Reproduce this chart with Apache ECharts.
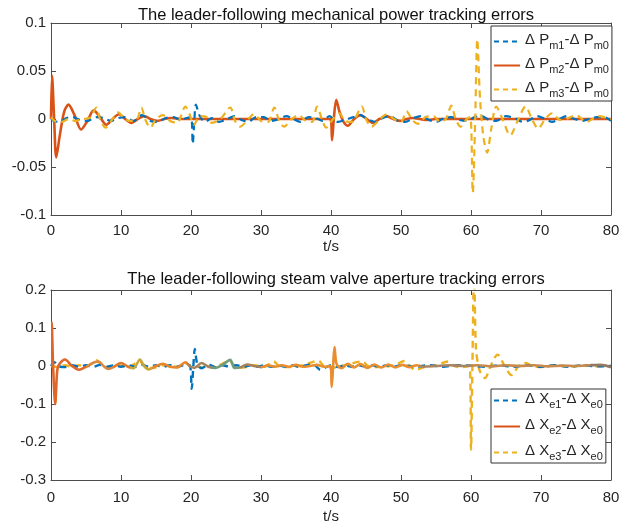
<!DOCTYPE html>
<html><head><meta charset="utf-8">
<script src="https://cdn.jsdelivr.net/npm/echarts@6/dist/echarts.min.js"></script>
<style>html,body{margin:0;padding:0;background:#fff}#c{width:634px;height:531px}</style>
</head><body><div id="c"></div>
<script>
// ---------- Top chart: mechanical power tracking errors ----------
const xTicks = [0, 10, 20, 30, 40, 50, 60, 70, 80];
const titleTop = 'The leader-following mechanical power tracking errors';
const titleBottom = 'The leader-following steam valve aperture tracking errors';

const pm1T = [0,0.4,1.2,2.2,3.0,4.2,5.2,6.4,7.5,8.6,9.6,10.6,11.8,13.0,14.2,15.2,16.4,17.5,18.5,19.4,20.0,20.25,20.45,20.7,21.2,22.0,23.0,24.0,25.2,26.2,27.2,28.2,29.3,30.4,31.4,32.6,33.6,34.6,35.6,36.8,37.8,38.8,39.8,40.3,41.0,42.0,43.2,44.2,45.2,46.4,47.4,48.4,49.6,50.6,51.8,52.8,54.0,55.0,56.2,57.2,58.4,59.4,60.5,61.5,62.6,63.6,65.0,66.2,67.4,68.4,69.4,70.6,71.6,72.6,73.7,74.8,75.8,77.0,78.0,79.0,80.0];
const pm1V = [0,-0.002,-0.003,0.001,0.002,-0.001,-0.002,0.002,0.001,-0.002,0.001,0.002,-0.002,0.004,-0.002,-0.003,0.001,0.002,-0.001,0.001,0.002,-0.026,-0.005,0.015,0.004,-0.003,0.001,-0.003,0.0,0.003,-0.001,-0.003,0.002,0.002,-0.002,0.0,0.003,0.0,-0.003,0.002,0.001,-0.002,0.003,0.0,-0.003,-0.001,0.002,0.004,0.0,-0.003,0.001,0.003,-0.002,-0.003,0.001,0.003,-0.001,-0.003,0.001,0.002,-0.001,-0.002,0.002,0.003,-0.001,-0.002,0.003,0.001,-0.003,-0.001,0.003,0.0,-0.003,0.0,0.003,0.0,-0.002,0.0,0.002,0.002,-0.002];

const pm2T = [0,0.15,0.45,0.75,1.3,1.9,2.5,3.3,4.3,5.2,6.1,7.0,7.9,8.8,9.7,10.6,11.5,12.4,13.3,14.2,15.2,16.2,17.2,18.5,20,30,39.9,40.15,40.4,40.75,41.2,41.8,42.4,43.3,44.2,45.1,46.0,46.9,47.9,48.9,49.9,50.8,51.7,52.7,53.8,55,65,80];
const pm2V = [0,0.045,0.0,-0.04,-0.015,0.008,0.015,0.005,-0.011,-0.002,0.009,0.002,-0.006,0.0,0.005,0.0,-0.004,0.0,0.003,0.0,-0.002,0.0,0.001,0.0,0,0,0.0,-0.022,0.0,0.02,0.008,-0.003,-0.007,0.0,0.004,0.0,-0.004,0.0,0.003,0.0,-0.002,0.0,0.001,0.0,-0.001,0,0,0];

const pm3T = [0,0.5,1.5,2.5,3.5,4.5,5.5,6.5,7.0,7.8,8.6,9.6,10.4,11.2,12.3,12.9,13.5,14.2,15.0,16.0,17.0,18.0,19.2,19.8,20.4,21.3,22.2,23.0,24.2,25.6,26.3,27.0,28.2,29.0,30.0,31.0,31.9,32.6,33.3,34.4,35.4,36.4,37.3,38.0,38.7,39.3,40.3,41.2,42.0,43.0,44.4,45.0,45.8,47.0,48.0,49.0,50.0,50.8,51.6,52.4,53.5,54.6,55.6,56.4,57.2,57.8,58.5,59.4,59.9,60.25,60.6,60.9,61.3,61.8,62.3,62.9,63.6,64.5,65.6,66.6,67.8,68.7,69.6,70.6,71.6,72.7,73.6,75.0,76.5,78.2,80];
const pm3V = [0.002,-0.002,-0.003,0.0,-0.002,0.0,0.001,0.012,0.0,-0.009,-0.002,0.007,0.001,-0.002,0.0,0.012,-0.001,-0.009,0.0,0.004,-0.002,-0.004,0.013,0.005,-0.006,0.003,0.002,-0.004,0.0,0.012,-0.002,-0.008,0.0,0.005,-0.002,-0.003,0.012,-0.002,-0.008,0.0,0.004,-0.002,-0.003,0.013,0.0,-0.009,0.0,0.006,-0.002,-0.003,0.013,0.0,-0.008,0.0,0.005,0.0,-0.003,0.008,-0.001,-0.005,0.002,0.003,-0.003,0.0,0.014,0.0,-0.008,0.0,0.002,-0.077,0.0,0.083,0.02,-0.02,-0.035,-0.01,0.013,0.0,-0.017,-0.003,0.013,0.0,-0.01,0.0,0.006,-0.001,0.0,0.004,-0.003,0.003,0.0];

// ---------- Bottom chart: steam valve aperture tracking errors ----------
const xe1T = [0,0.5,1.0,2.0,3.0,4.0,5.0,6.0,7.0,8.0,9.0,10.0,11.0,12.0,13.0,14.0,15.0,16.0,17.0,18.0,19.0,19.8,20.1,20.3,20.55,20.9,21.5,22.5,23.5,24.5,25.5,26.5,27.5,28.5,29.5,30.5,31.5,32.5,33.5,34.5,35.5,36.5,37.5,38.5,39.2,40,41,42,43,44,45,46,47,48,49,50,52,54,56,58,60,62,64,66,68,70,72,74,76,78,80];
const xe1V = [0,0.01,0,-0.003,0.002,-0.002,0.002,-0.002,0.003,-0.002,0.002,-0.002,0.002,-0.002,0.003,-0.002,0.002,-0.002,0.002,-0.002,0.002,0.002,-0.06,-0.01,0.045,0.005,-0.006,0.004,-0.003,0.002,-0.002,0.002,-0.002,0.002,-0.002,0.002,-0.002,0.002,-0.002,0.002,-0.002,0.002,0.004,-0.01,-0.004,0.002,-0.003,0.002,-0.002,0.002,-0.002,0.002,-0.002,0.002,-0.002,0.002,-0.002,0.002,-0.002,0.002,0.001,-0.002,0.002,-0.002,0.002,-0.002,0.002,-0.002,0.002,-0.001,0.0];

const xe2T = [0,0.1,0.3,0.6,0.9,1.2,2.0,3.0,4.0,5.0,6.2,6.8,7.5,8.2,9.0,10.0,11.0,11.8,12.7,13.3,14.0,15.0,16.0,17.0,18.0,19.2,19.8,20.5,21.5,22.5,23.5,24.5,25.6,26.2,27.0,28.0,29.0,30.0,31.0,32.0,33.0,34.0,35.0,36.0,37.0,38.0,39.0,39.9,40.1,40.3,40.5,40.8,41.5,42.4,43.3,44.2,45.2,46.2,47.2,48.2,49.2,50.2,51.2,52.2,53.2,55,57,59,61,63,65,67,69,71,73,75,77,78.5,80];
const xe2V = [0,0.115,0.0,-0.1,-0.01,0.005,0.017,0.0,-0.01,-0.002,0.01,0.012,0.0,-0.008,-0.002,0.008,-0.002,-0.006,0.017,0.0,-0.009,0.0,0.006,-0.002,-0.004,0.01,0.0,-0.005,0.008,-0.002,-0.005,0.003,0.016,-0.005,-0.004,0.004,0.0,-0.003,0.002,-0.002,0.002,-0.002,0.003,-0.002,0.0,0.003,-0.002,0.0,-0.055,0.0,0.05,0.005,-0.006,0.006,-0.004,0.005,-0.005,0.004,-0.004,0.004,-0.004,0.003,-0.003,0.002,-0.002,0.0,0.002,0.0,0.002,-0.001,0.002,0.0,0.002,-0.001,0.001,0.0,0.002,0.003,-0.003];

const xe3T = [0,1,2,3,4,5,6.5,7.3,8.2,9.5,11,12.7,13.4,14.5,16,18,19.2,20,22,24,25.5,26.3,27.5,29,30.5,31.8,32.6,34,36,38.2,39,40.5,42,44.5,45.3,47,49,50.5,51.3,52,53.5,55,56.8,57.6,58.5,59.8,60.0,60.2,60.45,60.7,61.2,62.0,62.8,63.8,64.8,65.8,66.8,67.8,68.8,70,72,74,76,78,80];
const xe3V = [0,-0.003,0.002,-0.002,0.002,-0.002,0.015,0.0,-0.004,0.002,-0.002,0.012,0.0,-0.005,0.002,-0.002,0.008,0.0,-0.003,0.002,0.014,0.0,-0.004,0.002,-0.002,0.012,0.0,-0.003,0.002,0.014,0.0,-0.004,0.002,0.012,0.0,-0.003,0.002,0.013,0.0,-0.01,-0.002,0.002,0.012,0.0,-0.003,0.0,-0.22,0.0,0.26,0.05,-0.01,-0.032,0.0,0.03,0.0,-0.024,0.0,0.008,0.0,-0.003,0.002,-0.002,0.002,-0.001,0.0];

// colour tint bands seen along the Xe2 trace in the reference (time ranges)
const xe2Bands = [[0,5],[5,9],[9,11.3],[11.3,14.5],[14.5,19.5],[19.5,22.8],[22.8,26.8],[26.8,30],[30,52.5],[52.5,60],[60,77],[77,80.1]];

const legendTop = {Pm1: ['P','m1','P','m0'], Pm2: ['P','m2','P','m0'], Pm3: ['P','m3','P','m0']};
const legendBot = {Xe1: ['X','e1','X','e0'], Xe2: ['X','e2','X','e0'], Xe3: ['X','e3','X','e0']};

const pairs = (t, v) => t.map((x, i) => [x, v[i]]);
const FONT = 'Liberation Sans, Arial, Helvetica, sans-serif';
const TXT = '#262626';
const AX = '#4d4d4d';
const BLUE = '#0072BD', ORANGE = '#D95319', YELLOW = '#EDB120';
const bandColors = ['#DF6628','#D98840','#E07A2A','#C9A53C','#E8862C','#A8845E','#709C7C','#A6825C','#E88E2E','#A98562','#C88A4C','#947862'];

const fmtY = v => { const r = Math.round(v * 1000) / 1000; return r === 0 ? '0' : String(r); };

function xAx(gridIndex, bottom, gap, margin) {
  return {
    type: 'value', gridIndex, min: 0, max: 80, interval: 10,
    position: bottom ? 'bottom' : 'top',
    name: bottom ? 't/s' : '', nameLocation: 'middle', nameGap: gap,
    nameTextStyle: {fontFamily: FONT, fontSize: 15, color: TXT},
    axisLine: {show: true, onZero: false, lineStyle: {color: AX, width: 1}},
    axisTick: {show: true, inside: true, length: 5, lineStyle: {color: AX}},
    axisLabel: {show: bottom, margin, fontFamily: FONT, fontSize: 15, color: TXT},
    splitLine: {show: false}
  };
}
function yAx(gridIndex, left, min, max, interval) {
  return {
    type: 'value', gridIndex, min, max, interval,
    position: left ? 'left' : 'right',
    axisLine: {show: true, onZero: false, lineStyle: {color: AX, width: 1}},
    axisTick: {show: true, inside: true, length: 5, lineStyle: {color: AX}},
    axisLabel: {show: left, margin: 5, fontFamily: FONT, fontSize: 15, color: TXT, formatter: fmtY},
    splitLine: {show: false}
  };
}
const rich = {
  n: {fontFamily: FONT, fontSize: 15, color: TXT, verticalAlign: 'top'},
  s: {fontFamily: FONT, fontSize: 11, color: TXT, verticalAlign: 'bottom', padding: [8, 0, 0, 0]}
};
function legendFmt(map) {
  return name => { const p = map[name]; return `{n|Δ ${p[0]}}{s|${p[1]}}{n|-Δ ${p[2]}}{s|${p[3]}}`; };
}
function mkSeries(name, data, color, dashed, xi, yi, z, width, useVisual) {
  return {
    name, type: 'line', data, xAxisIndex: xi, yAxisIndex: yi, showSymbol: false, symbol: 'none',
    smooth: 0.3, z, animation: false,
    lineStyle: useVisual ? {width} : {color, width, type: dashed ? [7, 5] : 'solid'},
    itemStyle: {color}
  };
}
function legendItems(names, colors, dashes) {
  return names.map((n, i) => ({name: n, itemStyle: {opacity: 0},
    lineStyle: {color: colors[i], width: 2, type: dashes[i] ? [5, 4] : 'solid'}}));
}

const chart = echarts.init(document.getElementById('c'), null, {renderer: 'canvas'});
chart.setOption({
  backgroundColor: '#fff',
  animation: false,
  title: [
    {text: titleTop, left: 331, top: 2, textAlign: 'center', textStyle: {fontFamily: FONT, fontSize: 16.5, fontWeight: 'normal', color: '#111'}},
    {text: titleBottom, left: 331, top: 266, textAlign: 'center', textStyle: {fontFamily: FONT, fontSize: 16.5, fontWeight: 'normal', color: '#111'}}
  ],
  grid: [
    {left: 51, top: 23, width: 560, height: 192, show: false},
    {left: 51, top: 290, width: 560, height: 190, show: false}
  ],
  xAxis: [xAx(0, true, 19, 8), xAx(0, false, 0, 0), xAx(1, true, 29, 10), xAx(1, false, 0, 0)],
  yAxis: [yAx(0, true, -0.1, 0.1, 0.05), yAx(0, false, -0.1, 0.1, 0.05), yAx(1, true, -0.3, 0.2, 0.1), yAx(1, false, -0.3, 0.2, 0.1)],
  visualMap: [{
    type: 'piecewise', show: false, seriesIndex: 4, dimension: 0,
    pieces: xe2Bands.map((b, i) => ({gte: b[0], lt: b[1], color: bandColors[i]}))
  }],
  legend: [
    {data: legendItems(['Pm1', 'Pm2', 'Pm3'], [BLUE, ORANGE, YELLOW], [1, 0, 1]), orient: 'vertical', left: 491, top: 26, itemWidth: 26, itemHeight: 14, itemGap: 5,
     padding: [6, 3, 2, 2], backgroundColor: '#fff', borderColor: '#333', borderWidth: 1,
     formatter: legendFmt(legendTop), textStyle: {rich}},
    {data: legendItems(['Xe1', 'Xe2', 'Xe3'], [BLUE, ORANGE, YELLOW], [1, 0, 1]), orient: 'vertical', left: 491, top: 389, itemWidth: 26, itemHeight: 14, itemGap: 7,
     padding: [2, 3, 1, 2], backgroundColor: '#fff', borderColor: '#333', borderWidth: 1,
     formatter: legendFmt(legendBot), textStyle: {rich}}
  ],
  series: [
    mkSeries('Pm1', pairs(pm1T, pm1V), BLUE, true, 0, 0, 3, 2.2),
    mkSeries('Pm2', pairs(pm2T, pm2V), ORANGE, false, 0, 0, 2, 2.6),
    mkSeries('Pm3', pairs(pm3T, pm3V), YELLOW, true, 0, 0, 4, 2.2),
    mkSeries('Xe1', pairs(xe1T, xe1V), BLUE, true, 2, 2, 3, 2.4),
    mkSeries('Xe2', pairs(xe2T, xe2V), '#E0702A', false, 2, 2, 4, 2.6, true),
    mkSeries('Xe3', pairs(xe3T, xe3V), YELLOW, true, 2, 2, 2, 2.4)
  ]
});
</script></body></html>
